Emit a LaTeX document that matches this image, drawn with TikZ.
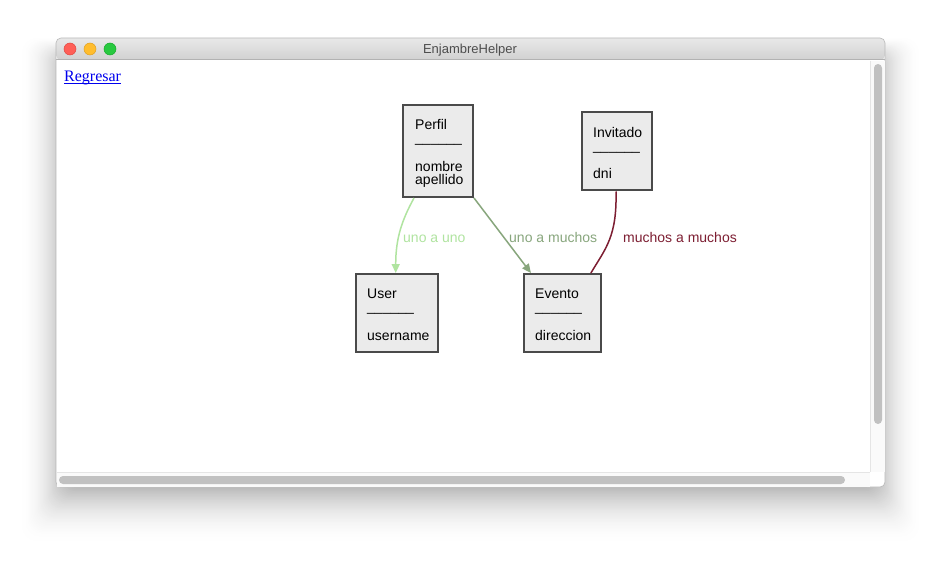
\documentclass[tikz,border=0pt]{standalone}
\usepackage{fontspec}
\setmainfont{Liberation Sans}
\newfontfamily\linkfont{Liberation Serif}
\usetikzlibrary{arrows.meta}
\definecolor{boxfill}{HTML}{EBEBEB}
\definecolor{boxdraw}{HTML}{4A4A4A}
\definecolor{onetoone}{RGB}{176,228,160}
\definecolor{onetomany}{RGB}{136,166,125}
\definecolor{manytomany}{RGB}{125,30,50}
\definecolor{linkblue}{HTML}{0000EE}
\definecolor{titletext}{HTML}{4D4D4D}
\definecolor{thumb}{HTML}{C1C1C1}
\tikzset{
  entity/.style={draw=boxdraw, line width=2pt, fill=boxfill, inner sep=0pt, rectangle},
  etext/.style={anchor=base west, inner sep=0pt, font=\fontsize{14}{14}\selectfont, text=black},
  elabel/.style={anchor=base west, inner sep=0pt, font=\fontsize{14}{14}\selectfont},
  rel/.style={line width=1.5pt},
  tip/.style={-{Triangle[length=9pt,width=8pt]}},
}
\begin{document}
\begin{tikzpicture}[x=1pt,y=-1pt]
\useasboundingbox (0,0) rectangle (941,561);
\fill[white] (0,0) rectangle (941,561);
% shadow (outer layers first, lighter)
\foreach \i in {45,...,1}{
  \pgfmathsetmacro{\shade}{38*(1-\i/46)^2}
  \fill[black!\shade!white,rounded corners=14pt]
    ({72-\i*1.15},{60-\i*0.5}) rectangle ({869+\i*1.15},{478+\i*1.45});
}
% window
\fill[white,rounded corners=5pt] (56,38) rectangle (885,487);
\shade[top color=white!91!black,bottom color=white!82!black,rounded corners=5pt]
  (56,60) -- (56,38) -- (885,38) -- (885,60) -- cycle;
\draw[white!70!black,line width=1pt] (56,60) -- (885,60);
\draw[white!72!black,line width=0.6pt,rounded corners=5pt] (56,38) rectangle (885,487);
% traffic lights
\node[circle,fill={rgb,255:red,255;green,95;blue,87},draw={rgb,255:red,226;green,70;blue,63},line width=0.5pt,minimum size=12pt,inner sep=0pt] (red) at (70,49) {};
\node[circle,fill={rgb,255:red,255;green,189;blue,46},draw={rgb,255:red,224;green,160;blue,30},line width=0.5pt,minimum size=12pt,inner sep=0pt] (yellow) at (90,49) {};
\node[circle,fill={rgb,255:red,40;green,201;blue,64},draw={rgb,255:red,20;green,170;blue,40},line width=0.5pt,minimum size=12pt,inner sep=0pt] (green) at (110,49) {};
\node[font=\fontsize{13}{13}\selectfont,text=titletext,anchor=base,inner sep=0pt] (title) at (470,54) {EnjambreHelper};
% scrollbars
\fill[white!98!black] (870,61) rectangle (884.5,472);
\draw[white!90!black,line width=0.8pt] (870,61) -- (870,472);
\fill[thumb,rounded corners=4pt] (874,64) rectangle (882,424);
\fill[white!98!black] (57,472) rectangle (870,486.5);
\draw[white!90!black,line width=0.8pt] (57,472) -- (870,472);
\fill[thumb,rounded corners=4pt] (59,476) rectangle (845,484);
% link
\node[anchor=base west,inner sep=0pt,font=\linkfont\fontsize{16}{16}\selectfont,text=linkblue] (back) at (64,82) {Regresar};
\draw[linkblue,line width=1pt] (back.base west)+(0,2) -- ([yshift=-2pt]back.base east);
% entities
\node[entity,minimum width=70pt,minimum height=92pt] (perfil) at (438,151) {};
\node[etext] (perfilname) at (415,130) {Perfil};
\node[etext] (perfilsep) at (415,143) {\_\_\_\_\_\_};
\node[etext] (perfilattr1) at (415,171.7) {nombre};
\node[etext] (perfilattr2) at (415,184.3) {apellido};

\node[entity,minimum width=70pt,minimum height=78pt] (invitado) at (617,151.5) {};
\node[etext] (invname) at (593,137.5) {Invitado};
\node[etext] (invsep) at (593,150.5) {\_\_\_\_\_\_};
\node[etext] (invattr) at (593,179) {dni};

\node[entity,minimum width=82pt,minimum height=78pt] (user) at (396.7,313) {};
\node[etext] (username) at (367,298.5) {User};
\node[etext] (usersep) at (367,311.3) {\_\_\_\_\_\_};
\node[etext] (userattr) at (367,340.5) {username};

\node[entity,minimum width=77pt,minimum height=78pt] (evento) at (562.4,313) {};
\node[etext] (evname) at (535,298.5) {Evento};
\node[etext] (evsep) at (535,311.3) {\_\_\_\_\_\_};
\node[etext] (evattr) at (535,340.5) {direccion};
% relations
\coordinate (p1) at ([xshift=12pt]perfil.south west);
\coordinate (u1) at ([xshift=41pt]user.north west);
\draw[rel,tip,onetoone] (p1) .. controls +(-12,22) and +(0,-35) .. (u1);
\node[elabel,text=onetoone] (l1) at (403,242) {uno a uno};

\coordinate (p2) at (perfil.south east);
\coordinate (e1) at ([xshift=8pt]evento.north west);
\draw[rel,tip,onetomany] (p2) -- (e1);
\node[elabel,text=onetomany] (l2) at (509,242) {uno a muchos};

\coordinate (i1) at ([xshift=35pt]invitado.south west);
\coordinate (e2) at ([xshift=-11pt]evento.north east);
\draw[rel,manytomany] (i1) .. controls +(1,45) and +(15,-25) .. (e2);
\node[elabel,text=manytomany] (l3) at (623,242) {muchos a muchos};
\end{tikzpicture}
\end{document}
